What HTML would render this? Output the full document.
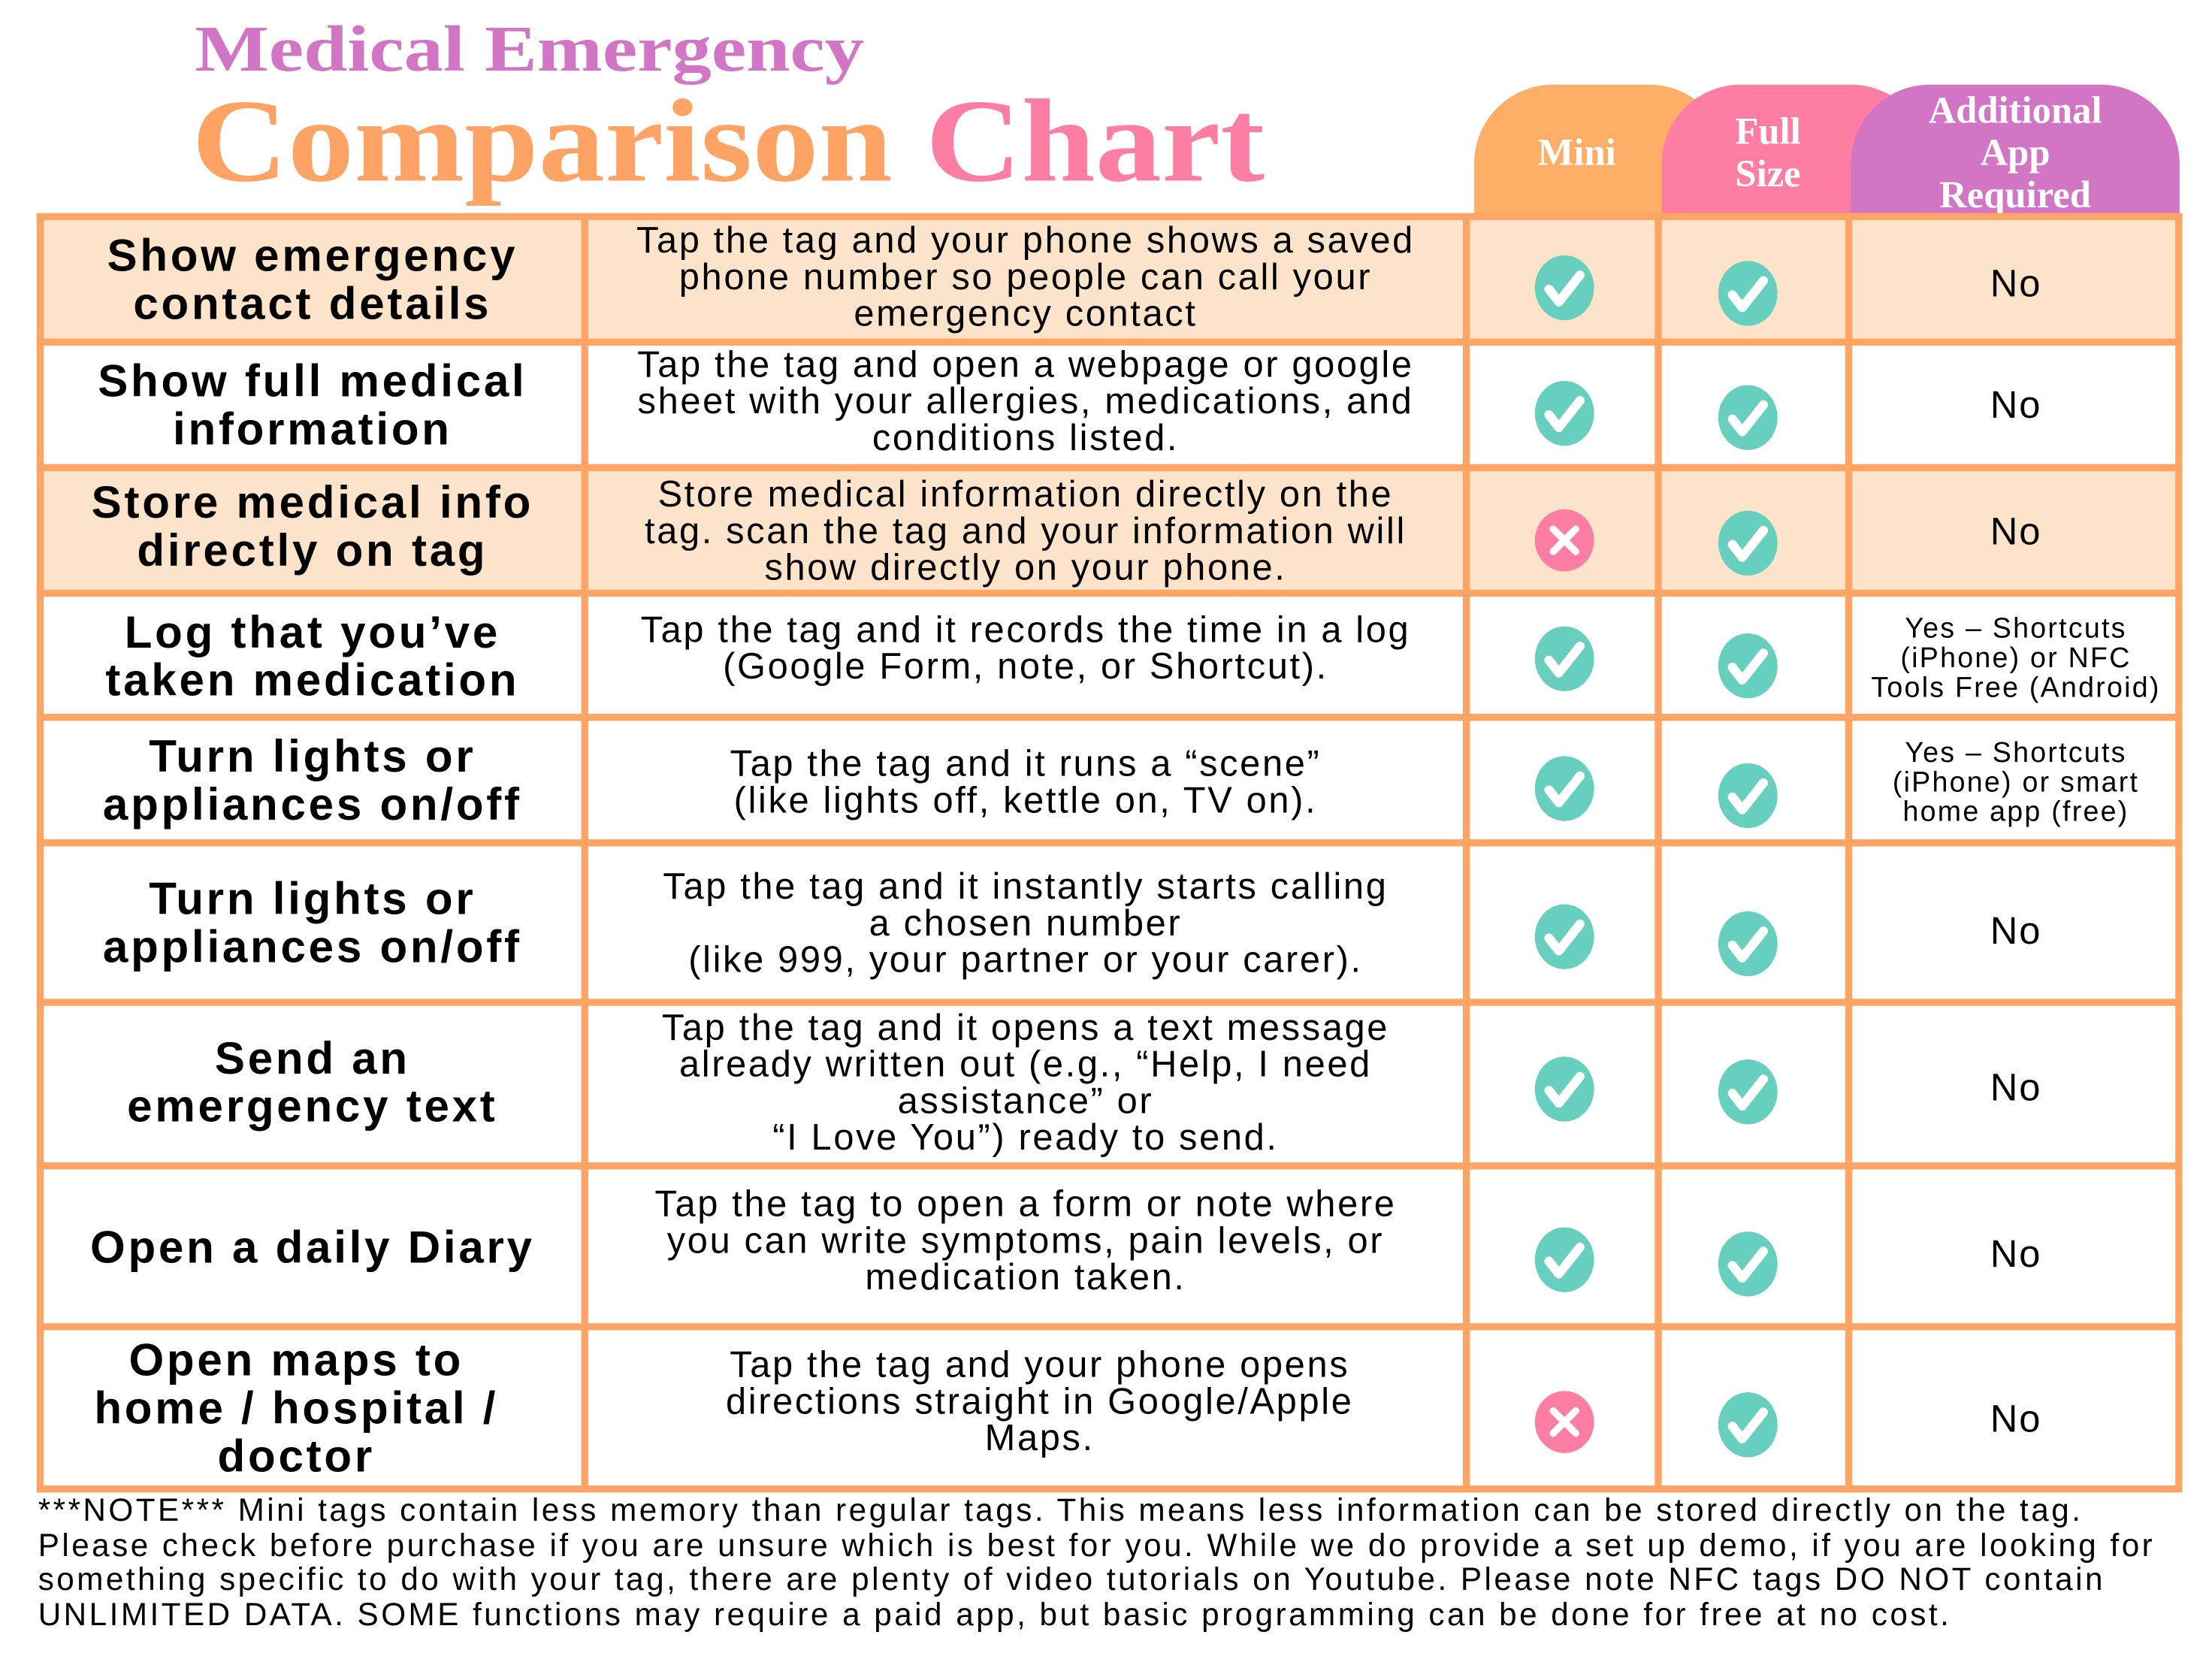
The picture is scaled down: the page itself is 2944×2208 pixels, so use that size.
<!DOCTYPE html>
<html><head><meta charset="utf-8"><style>
html,body{margin:0;padding:0;background:#fff;}
body{width:2944px;height:2208px;overflow:hidden;position:relative;}
#w{position:absolute;left:0;top:0;width:1568px;height:1176px;transform:scale(1.87755);transform-origin:0 0;font-family:"Liberation Sans",sans-serif;}
.a{position:absolute;}
.t1{left:138px;top:8px;font:bold 46px "Liberation Serif",serif;color:#d275c4;transform:scaleX(1.21);transform-origin:0 0;white-space:nowrap;}
.t2{left:136px;top:52px;font:bold 84px "Liberation Serif",serif;color:#fea364;white-space:nowrap;transform:scaleX(1.12);transform-origin:0 0;}
.tab{position:absolute;top:60px;height:96px;border-radius:56px 56px 0 0;color:#fff;font:bold 27px "Liberation Serif",serif;display:flex;align-items:center;justify-content:center;text-align:center;line-height:30px;}
.grid{position:absolute;background:#fea464;}
.cell{position:absolute;display:flex;align-items:center;justify-content:center;text-align:center;white-space:nowrap;}
.lab{font-weight:bold;font-size:32px;line-height:34px;color:#000;letter-spacing:2px;}
.desc{font-size:26px;line-height:26px;color:#000;letter-spacing:1.4px;}
.no{font-size:27px;color:#000;letter-spacing:1px;}
.sm{font-size:20px;line-height:21px;color:#000;letter-spacing:1.2px;}
.note{left:27px;top:1059px;width:1540px;font-size:22.5px;line-height:24.5px;color:#000;letter-spacing:1.85px;white-space:nowrap;}
</style></head><body><div id="w">
<div class="a t1">Medical Emergency</div>
<div class="a t2">Comparison <span style="color:#fe7ea3">Chart</span></div>

<div class="tab" style="left:1045px;width:180px;background:#feae66;justify-content:flex-start;padding-left:45px;box-sizing:border-box;">Mini</div>
<div class="tab" style="left:1178px;width:190px;background:#fe7ea3;justify-content:flex-start;padding-left:52px;box-sizing:border-box;">Full<br>Size</div>
<div class="tab" style="left:1312px;width:233px;background:#d275c4;">Additional<br>App<br>Required</div>

<div class="a" style="left:27px;top:152px;width:1519px;height:90px;background:#fee3cb"></div>
<div class="a" style="left:27px;top:331px;width:1519px;height:89px;background:#fee3cb"></div>

<div class="grid" style="left:26px;top:151px;width:1521px;height:5px"></div>
<div class="grid" style="left:26px;top:240px;width:1521px;height:5px"></div>
<div class="grid" style="left:26px;top:329px;width:1521px;height:5px"></div>
<div class="grid" style="left:26px;top:418px;width:1521px;height:5px"></div>
<div class="grid" style="left:26px;top:506px;width:1521px;height:5px"></div>
<div class="grid" style="left:26px;top:595px;width:1521px;height:5px"></div>
<div class="grid" style="left:26px;top:708px;width:1521px;height:5px"></div>
<div class="grid" style="left:26px;top:824px;width:1521px;height:5px"></div>
<div class="grid" style="left:26px;top:938px;width:1521px;height:5px"></div>
<div class="grid" style="left:26px;top:1053px;width:1521px;height:5px"></div>
<div class="grid" style="left:26px;top:151px;width:5px;height:907px"></div>
<div class="grid" style="left:412px;top:151px;width:5px;height:907px"></div>
<div class="grid" style="left:1037px;top:151px;width:5px;height:907px"></div>
<div class="grid" style="left:1173px;top:151px;width:5px;height:907px"></div>
<div class="grid" style="left:1308px;top:151px;width:5px;height:907px"></div>
<div class="grid" style="left:1542px;top:151px;width:5px;height:907px"></div>

<div class="cell lab" style="left:31px;top:156px;width:381px;height:84px">Show emergency<br>contact details</div>
<div class="cell lab" style="left:31px;top:245px;width:381px;height:84px">Show full medical<br>information</div>
<div class="cell lab" style="left:31px;top:331px;width:381px;height:84px">Store medical info<br>directly on tag</div>
<div class="cell lab" style="left:31px;top:423px;width:381px;height:83px">Log that you’ve<br>taken medication</div>
<div class="cell lab" style="left:31px;top:511px;width:381px;height:84px">Turn lights or<br>appliances on/off</div>
<div class="cell lab" style="left:31px;top:600px;width:381px;height:108px">Turn lights or<br>appliances on/off</div>
<div class="cell lab" style="left:31px;top:711px;width:381px;height:111px">Send an<br>emergency text</div>
<div class="cell lab" style="left:31px;top:829px;width:381px;height:109px">Open a daily Diary</div>
<div class="cell lab" style="left:10px;top:943px;width:400px;height:110px">Open maps to<br>home / hospital /<br>doctor</div>

<div class="cell desc" style="left:417px;top:154px;width:620px;height:84px">Tap the tag and your phone shows a saved<br>phone number so people can call your<br>emergency contact</div>
<div class="cell desc" style="left:417px;top:242px;width:620px;height:84px">Tap the tag and open a webpage or google<br>sheet with your allergies, medications, and<br>conditions listed.</div>
<div class="cell desc" style="left:417px;top:334px;width:620px;height:84px">Store medical information directly on the<br>tag. scan the tag and your information will<br>show directly on your phone.</div>
<div class="cell desc" style="left:417px;top:423px;width:620px;height:80px;align-items:flex-start;padding-top:10px;box-sizing:border-box">Tap the tag and it records the time in a log<br>(Google Form, note, or Shortcut).</div>
<div class="cell desc" style="left:417px;top:514px;width:620px;height:80px">Tap the tag and it runs a “scene”<br>(like lights off, kettle on, TV on).</div>
<div class="cell desc" style="left:417px;top:600px;width:620px;height:108px">Tap the tag and it instantly starts calling<br>a chosen number<br>(like 999, your partner or your carer).</div>
<div class="cell desc" style="left:417px;top:711px;width:620px;height:111px">Tap the tag and it opens a text message<br>already written out (e.g., “Help, I need<br>assistance” or<br>“I Love You”) ready to send.</div>
<div class="cell desc" style="left:417px;top:824px;width:620px;height:109px">Tap the tag to open a form or note where<br>you can write symptoms, pain levels, or<br>medication taken.</div>
<div class="cell desc" style="left:427px;top:938px;width:620px;height:110px">Tap the tag and your phone opens<br>directions straight in Google/Apple<br>Maps.</div>

<div class="cell no" style="left:1313px;top:156px;width:232px;height:90px">No</div>
<div class="cell no" style="left:1313px;top:245px;width:232px;height:84px">No</div>
<div class="cell no" style="left:1313px;top:334px;width:232px;height:86px">No</div>
<div class="cell sm" style="left:1313px;top:423px;width:232px;height:88px">Yes – Shortcuts<br>(iPhone) or NFC<br>Tools Free (Android)</div>
<div class="cell sm" style="left:1313px;top:511px;width:232px;height:88px">Yes – Shortcuts<br>(iPhone) or smart<br>home app (free)</div>
<div class="cell no" style="left:1313px;top:600px;width:232px;height:120px">No</div>
<div class="cell no" style="left:1313px;top:713px;width:232px;height:116px">No</div>
<div class="cell no" style="left:1313px;top:829px;width:232px;height:120px">No</div>
<div class="cell no" style="left:1313px;top:943px;width:232px;height:126px">No</div>

<svg class="a" style="left:0;top:0" width="1568" height="1176">
<defs>
<g id="ck"><ellipse cx="0" cy="0" rx="21" ry="23" fill="#66cfbd"/><path d="M-11,1 L-4,10 L11,-9" stroke="#fff" stroke-width="6.5" fill="none" stroke-linecap="round" stroke-linejoin="round"/></g>
<g id="xx"><ellipse cx="0" cy="0" rx="21" ry="22" fill="#fe7ea3"/><path d="M-8,-8 L8,8 M8,-8 L-8,8" stroke="#fff" stroke-width="5" stroke-linecap="round"/></g>
</defs>
<use href="#ck" x="1109" y="204"/><use href="#ck" x="1239" y="208"/>
<use href="#ck" x="1109" y="293"/><use href="#ck" x="1239" y="296"/>
<use href="#xx" x="1109" y="383"/><use href="#ck" x="1239" y="385"/>
<use href="#ck" x="1109" y="467"/><use href="#ck" x="1239" y="472"/>
<use href="#ck" x="1109" y="559"/><use href="#ck" x="1239" y="564"/>
<use href="#ck" x="1109" y="664"/><use href="#ck" x="1239" y="669"/>
<use href="#ck" x="1109" y="772"/><use href="#ck" x="1239" y="774"/>
<use href="#ck" x="1109" y="893"/><use href="#ck" x="1239" y="896"/>
<use href="#xx" x="1109" y="1008"/><use href="#ck" x="1239" y="1010"/>
</svg>

<div class="a note">***NOTE*** Mini tags contain less memory than regular tags. This means less information can be stored directly on the tag.<br>Please check before purchase if you are unsure which is best for you. While we do provide a set up demo, if you are looking for<br>something specific to do with your tag, there are plenty of video tutorials on Youtube. Please note NFC tags DO NOT contain<br>UNLIMITED DATA. SOME functions may require a paid app, but basic programming can be done for free at no cost.</div>
</div></body></html>
